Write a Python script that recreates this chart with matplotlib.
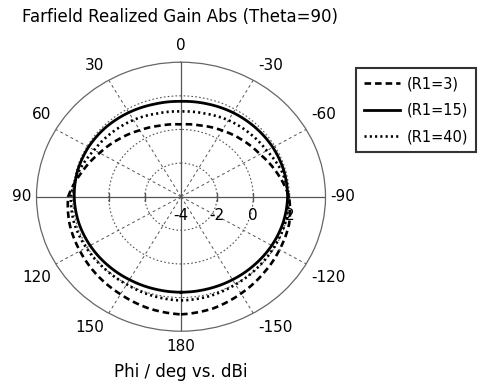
import numpy as np
import matplotlib
matplotlib.use('Agg')
import matplotlib.pyplot as plt

# Farfield cut, phi in degrees (-180..180), gain in dBi
phi_deg = [-180, -165, -150, -135, -120, -105, -90, -75, -60, -45, -30, -15, 0,
           15, 30, 45, 60, 75, 90, 105, 120, 135, 150, 165, 180]
gain_r1_3 = [3.00, 2.88, 2.65, 2.45, 2.30, 2.20, 1.98, 1.50, 1.05, 0.78, 0.55, 0.38, 0.30,
             0.38, 0.56, 0.85, 1.20, 1.68, 2.25, 2.38, 2.46, 2.58, 2.70, 2.88, 3.00]
gain_r1_15 = [1.68, 1.68, 1.70, 1.74, 1.80, 1.86, 1.90, 1.90, 1.87, 1.82, 1.77, 1.71, 1.67,
              1.70, 1.78, 1.86, 1.91, 1.93, 1.91, 1.87, 1.81, 1.75, 1.70, 1.68, 1.68]
gain_r1_40 = [2.17, 2.12, 2.03, 1.98, 1.96, 1.98, 1.95, 1.78, 1.48, 1.35, 1.25, 1.12, 1.07,
              1.12, 1.27, 1.40, 1.55, 1.85, 2.10, 2.12, 2.06, 2.02, 2.02, 2.10, 2.17]
series_labels = ['(R1=3)', '(R1=15)', '(R1=40)']

angle_ticks = [0, 30, 60, 90, 120, 150, 180, 210, 240, 270, 300, 330]
angle_labels = ['0', '30', '60', '90', '120', '150', '180', '-150', '-120', '-90', '-60', '-30']
r_ticks = [-4, -2, 0, 2]

W, H = 479, 385
fig = plt.figure(figsize=(W / 100, H / 100), dpi=100)
ax = fig.add_axes([36.5 / W, 1 - 331.2 / H, 289 / W, 269 / H], projection='polar')
ax.set_aspect('auto')
ax.set_theta_zero_location('N')
ax.set_theta_direction(1)
ax.set_ylim(-4, 4)

grid_col = '#555555'
ax.set_thetagrids(angle_ticks, [''] * len(angle_ticks))
ax.xaxis.grid(True, color=grid_col, linestyle=(0, (3, 3)), linewidth=0.7)
ax.set_yticks([-2, 0, 2])
ax.set_yticklabels([])
ax.yaxis.grid(True, color=grid_col, linestyle=(0, (1.5, 2)), linewidth=0.8)
ax.spines['polar'].set_color('#666666')
ax.spines['polar'].set_linewidth(0.9)

# angle labels: right-aligned on the left half, left-aligned on the right half
for a, lab in zip(angle_ticks, angle_labels):
    s = -np.sin(np.deg2rad(a))   # +1 towards the right side
    c = np.cos(np.deg2rad(a))    # +1 towards the top
    if abs(s) < 0.01:
        off, ha = (0, 17 if c > 0 else -15), 'center'
    else:
        dy = 0 if abs(c) < 0.01 else (15 if c > 0 else -14)
        off, ha = (5 * np.sign(s), dy), ('left' if s > 0 else 'right')
    ax.annotate(lab, xy=(np.deg2rad(a), 4), xytext=off, textcoords='offset pixels',
                ha=ha, va='center', fontsize=11, annotation_clip=False)

# solid main axes
for a in [0, 90, 180, 270]:
    ax.plot([np.deg2rad(a)] * 2, [-4, 4], color='#555555', lw=0.9, zorder=2)

# small ticks on the horizontal axis
for a in [90, 270]:
    ax.plot([np.deg2rad(a)] * 3, [-2, 0, 2], linestyle='none', marker='|',
            markersize=6, color='#555555', zorder=2)

th = np.deg2rad(phi_deg)
lines = []
lines += ax.plot(th, gain_r1_3, color='black', lw=1.9, linestyle=(0, (2.5, 1.5)),
                 label=series_labels[0], zorder=4)
lines += ax.plot(th, gain_r1_15, color='black', lw=2.0, linestyle='-',
                 label=series_labels[1], zorder=4)
lines += ax.plot(th, gain_r1_40, color='black', lw=1.9, linestyle=(0, (0.8, 1.2)),
                 label=series_labels[2], zorder=4)
# draw segments as smooth curves in polar space
for ln in lines:
    ln.get_path()._interpolation_steps = 16

for r in r_ticks:
    ax.annotate(str(r), xy=(np.deg2rad(270), r), xytext=(0, -19),
                textcoords='offset pixels', ha='center', va='center',
                fontsize=11, zorder=5)

fig.text(22 / W, 1 - 17 / H, 'Farfield Realized Gain Abs (Theta=90)',
         ha='left', va='center', fontsize=12)
fig.text(181 / W, 1 - 372 / H, 'Phi / deg vs. dBi', ha='center', va='center',
         fontsize=12)

leg = ax.legend(loc='upper left', bbox_to_anchor=(356 / W, 1 - 68 / H),
                bbox_transform=fig.transFigure, borderaxespad=0,
                frameon=True, fancybox=False, fontsize=10.5, handlelength=2.45,
                handletextpad=0.45, labelspacing=0.8, borderpad=0.55)
leg.get_frame().set_edgecolor('black')
leg.get_frame().set_linewidth(1.5)

fig.savefig('out.png', dpi=100)
